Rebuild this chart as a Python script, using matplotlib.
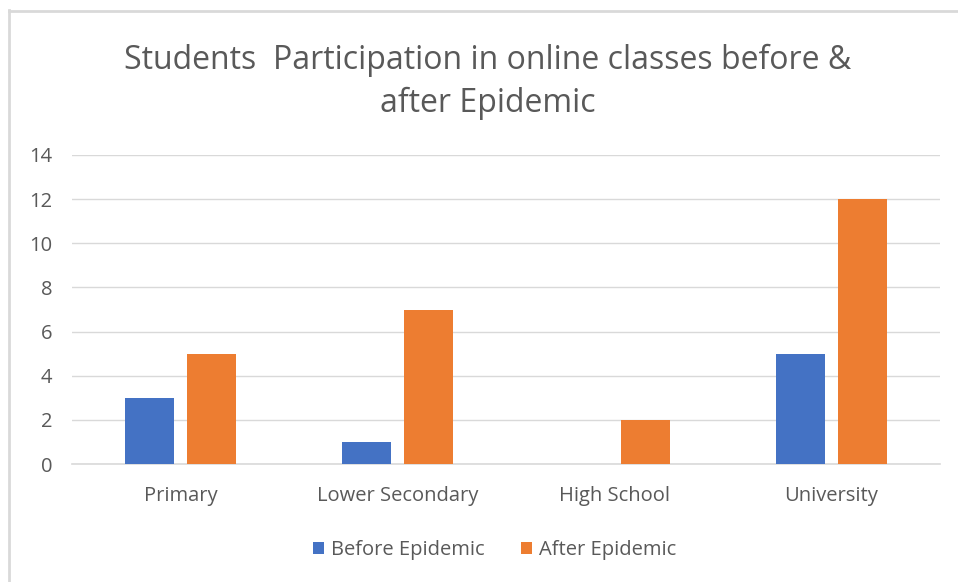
import matplotlib
matplotlib.use("Agg")
import matplotlib.pyplot as plt
import numpy as np
from matplotlib.lines import Line2D

categories = ["Primary", "Lower Secondary", "High School", "University"]
before = [3, 1, 0, 5]
after = [5, 7, 2, 12]
series_names = ["Before Epidemic", "After Epidemic"]
yticks = [0, 2, 4, 6, 8, 10, 12, 14]

W, H = 958, 582
fig = plt.figure(figsize=(W / 100, H / 100), dpi=100)
plt.rcParams['font.family'] = ['Open Sans', 'DejaVu Sans']

# outer border (top & left visible)
fig.add_artist(Line2D([8.5 / W, 8.5 / W], [0, 1 - 10 / H], transform=fig.transFigure, color="#d9d9d9", lw=2))
fig.add_artist(Line2D([8.5 / W, 1], [1 - 10.5 / H, 1 - 10.5 / H], transform=fig.transFigure, color="#d9d9d9", lw=2))

ax = fig.add_axes([72 / W, 1 - 464 / H, (940 - 72) / W, (464 - 155) / H])
x = np.arange(len(categories))
bw = 0.226
off = 0.143
ax.bar(x - off, before, bw, color="#4472c4", label=series_names[0], zorder=3)
ax.bar(x + off, after, bw, color="#ed7d31", label=series_names[1], zorder=3)

ax.set_xlim(-0.5, len(categories) - 0.5)
ax.set_ylim(0, 14)
ax.set_yticks(yticks)
ax.yaxis.grid(True, color="#d9d9d9", lw=1, zorder=0)
ax.set_axisbelow(True)
for s in ["top", "right", "left"]:
    ax.spines[s].set_visible(False)
ax.spines["bottom"].set_color("#d9d9d9")
ax.spines["bottom"].set_linewidth(1.2)
ax.set_xticks(x)
ax.set_xticklabels(categories)
ax.tick_params(axis="both", length=0, colors="#595959")
ax.tick_params(axis="x", pad=16, labelsize=14.5)
ax.tick_params(axis="y", pad=14, labelsize=14.5)

fig.text(488 / W, 1 - 82 / H, "Students  Participation in online classes before &\nafter Epidemic",
         ha="center", va="center", fontsize=23, color="#595959", linespacing=1.38)

leg = fig.legend(*ax.get_legend_handles_labels(), loc="center", bbox_to_anchor=(495 / W, 1 - 550 / H),
                 ncol=2, frameon=False, fontsize=14.5, handlelength=0.55, handleheight=0.55,
                 handletextpad=0.35, columnspacing=1.8)
for t in leg.get_texts():
    t.set_color("#595959")

fig.savefig("out.png", dpi=100)
